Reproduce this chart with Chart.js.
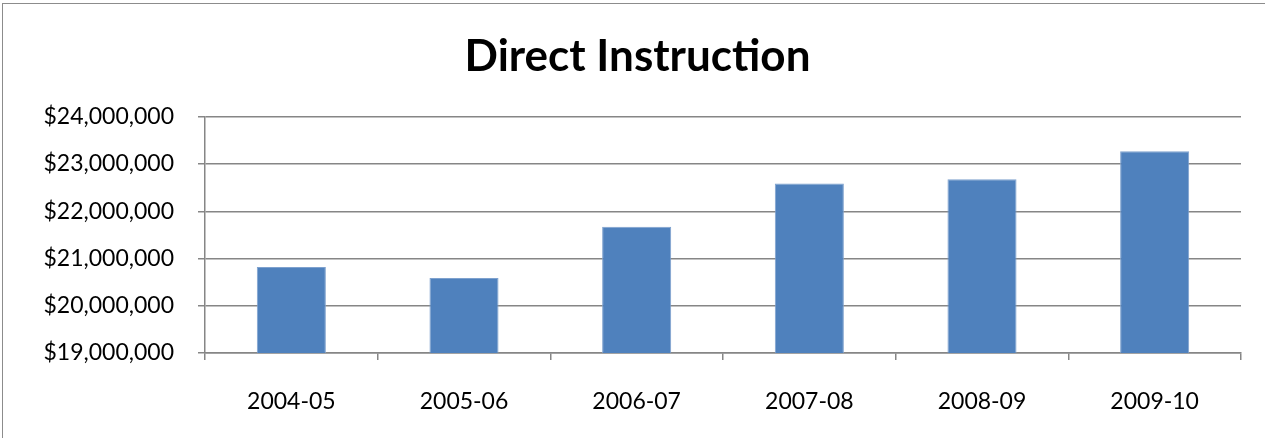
<!DOCTYPE html>
<html lang="en">
<head>
    <meta charset="UTF-8">
    <title>Direct Instruction</title>
    <style>
        html, body { margin: 0; padding: 0; background: #fff; overflow: hidden; }
        #wrap { position: relative; width: 1265px; height: 438px; }
        #frame { position: absolute; left: 2px; top: 3px; width: 1300px; height: 500px; border: 1px solid #8c8c8c; }
        canvas { position: absolute; left: 0; top: 0; }
    </style>
    <script src="https://cdn.jsdelivr.net/npm/chart.js"></script>
</head>
<body>
<div id="wrap">
    <div id="frame"></div>
    <canvas id="chart" width="1265" height="438"></canvas>
</div>
<script>
    // data
    const years = ['2004-05', '2005-06', '2006-07', '2007-08', '2008-09', '2009-10'];
    const spending = [20820000, 20590000, 21670000, 22590000, 22680000, 23270000];
    const yTicks = [19000000, 20000000, 21000000, 22000000, 23000000, 24000000];

    const axisGray = '#868686';
    const labelFont = { family: 'Lato', size: 23 };

    function money(v) {
        return '$' + v.toLocaleString('en-US');
    }

    new Chart(document.getElementById('chart'), {
        type: 'bar',
        data: {
            labels: years,
            datasets: [{
                data: spending,
                backgroundColor: '#4F81BD',
                borderColor: '#7EA1CE',
                borderWidth: 1,
                categoryPercentage: 1,
                barPercentage: 0.4
            }]
        },
        options: {
            responsive: false,
            animation: false,
            // left/right padding also shifts the title centre to match
            layout: { padding: { left: 34, right: 24, top: 0, bottom: 0 } },
            plugins: {
                legend: { display: false },
                tooltip: { enabled: false },
                title: {
                    display: true,
                    text: 'Direct Instruction',
                    color: '#000',
                    font: { family: 'Lato', size: 44, weight: 'bold', lineHeight: 1.2 },
                    padding: { top: 30, bottom: 34 }
                }
            },
            scales: {
                x: {
                    offset: true,
                    grid: { offset: true, drawOnChartArea: false, color: axisGray, tickLength: 7, lineWidth: 1.5 },
                    border: { color: axisGray, width: 1.5 },
                    ticks: { color: '#000', font: labelFont, padding: 28, maxRotation: 0 },
                    afterFit: s => { s.height = 85; }
                },
                y: {
                    min: yTicks[0],
                    max: yTicks[yTicks.length - 1],
                    afterBuildTicks: s => { s.ticks = yTicks.map(v => ({ value: v })); },
                    grid: { color: axisGray, tickLength: 7, lineWidth: 1.5 },
                    border: { color: axisGray, width: 1.5 },
                    ticks: { color: '#000', font: labelFont, padding: 24, callback: v => money(v) },
                    afterFit: s => { s.width = 171; }
                }
            }
        }
    });
</script>
</body>
</html>
